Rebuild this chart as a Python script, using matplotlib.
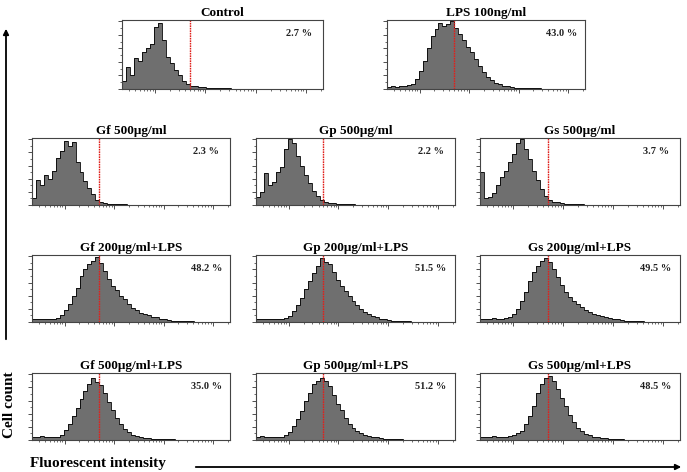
import matplotlib
matplotlib.use('Agg')
from matplotlib import pyplot as plt
from matplotlib.ticker import LogLocator, MultipleLocator, NullFormatter
import numpy as np

plt.rcParams['font.family'] = ['Liberation Serif', 'DejaVu Serif']
plt.rcParams['font.weight'] = 'bold'

W, H = 687, 472

# marker gate position (fluorescence channel) and axis range
gate = 5.0
x_lo, x_hi = 0.22, 2200

titles = ['Control', 'LPS 100ng/ml',
	'Gf 500\u03bcg/ml', 'Gp 500\u03bcg/ml', 'Gs 500\u03bcg/ml',
	'Gf 200\u03bcg/ml+LPS', 'Gp 200\u03bcg/ml+LPS', 'Gs 200\u03bcg/ml+LPS',
	'Gf 500\u03bcg/ml+LPS', 'Gp 500\u03bcg/ml+LPS', 'Gs 500\u03bcg/ml+LPS']

percents = ['2.7 %', '43.0 %',
	'2.3 %', '2.2 %', '3.7 %',
	'48.2 %', '51.5 %', '49.5 %',
	'35.0 %', '51.2 %', '48.5 %']

# relative cell counts, 50 log-spaced channels across the axis
control = [0.12, 0.32, 0.2, 0.46, 0.42, 0.55, 0.6, 0.66, 0.92, 0.98, 0.72, 0.48, 0.38, 0.28, 0.2, 0.12, 0.08, 0.05,
	0.04, 0.03, 0.025, 0.02, 0.02, 0.015, 0.012, 0.01, 0.008, 0.006, 0.005, 0.004, 0.003, 0.003, 0.002, 0.002,
	0.002, 0.002, 0.001, 0.001, 0, 0, 0, 0, 0, 0, 0, 0, 0, 0, 0, 0]
lps = [0.03, 0.04, 0.03, 0.05, 0.04, 0.06, 0.08, 0.15, 0.26, 0.42, 0.6, 0.78, 0.88, 0.97, 0.93, 0.96, 1.0, 0.9,
	0.82, 0.72, 0.62, 0.54, 0.44, 0.34, 0.25, 0.18, 0.13, 0.09, 0.07, 0.05, 0.04, 0.03, 0.02, 0.02, 0.015, 0.01,
	0.01, 0.01, 0.01, 0.005, 0.005, 0.005, 0.005, 0.002, 0.002, 0, 0, 0, 0, 0]
gf500 = [0.1, 0.38, 0.3, 0.45, 0.4, 0.52, 0.72, 0.82, 0.98, 0.9, 0.96, 0.66, 0.5, 0.36, 0.26, 0.16, 0.08, 0.05,
	0.03, 0.02, 0.015, 0.012, 0.01, 0.008, 0.006, 0.004, 0.003, 0.002, 0.002, 0.002, 0.002, 0, 0, 0, 0, 0, 0, 0,
	0, 0, 0, 0, 0, 0, 0, 0, 0, 0, 0, 0]
gp500 = [0.12, 0.2, 0.48, 0.3, 0.35, 0.5, 0.58, 0.85, 1.0, 0.95, 0.75, 0.6, 0.45, 0.34, 0.22, 0.14, 0.08, 0.05,
	0.03, 0.025, 0.02, 0.015, 0.012, 0.01, 0.008, 0.006, 0.004, 0.003, 0.002, 0.002, 0.002, 0, 0, 0, 0, 0, 0, 0,
	0, 0, 0, 0, 0, 0, 0, 0, 0, 0, 0, 0]
gs500 = [0.5, 0.1, 0.12, 0.18, 0.3, 0.42, 0.52, 0.66, 0.78, 0.94, 1.0, 0.86, 0.7, 0.52, 0.38, 0.24, 0.14, 0.08,
	0.05, 0.04, 0.03, 0.02, 0.018, 0.015, 0.01, 0.008, 0.006, 0.004, 0.003, 0.002, 0, 0, 0, 0, 0, 0, 0, 0, 0, 0,
	0, 0, 0, 0, 0, 0, 0, 0, 0, 0]
gf200_lps = [0.04, 0.05, 0.04, 0.05, 0.04, 0.05, 0.06, 0.1, 0.18, 0.28, 0.4, 0.52, 0.7, 0.8, 0.88, 0.93, 0.99,
	0.9, 0.78, 0.65, 0.55, 0.48, 0.4, 0.35, 0.28, 0.22, 0.18, 0.14, 0.12, 0.1, 0.08, 0.07, 0.05, 0.04, 0.035, 0.02,
	0.02, 0.015, 0.01, 0.01, 0.01, 0.005, 0.005, 0.005, 0, 0, 0, 0, 0, 0]
gp200_lps = [0.05, 0.04, 0.05, 0.04, 0.05, 0.04, 0.05, 0.06, 0.09, 0.16, 0.26, 0.36, 0.5, 0.62, 0.75, 0.86, 0.98,
	0.92, 0.88, 0.76, 0.64, 0.55, 0.47, 0.4, 0.32, 0.26, 0.2, 0.15, 0.12, 0.09, 0.07, 0.05, 0.04, 0.03, 0.02, 0.015,
	0.01, 0.01, 0.01, 0, 0, 0, 0, 0, 0, 0, 0, 0, 0, 0]
gs200_lps = [0.05, 0.05, 0.04, 0.06, 0.05, 0.05, 0.06, 0.07, 0.12, 0.2, 0.32, 0.45, 0.62, 0.76, 0.85, 0.93, 0.98,
	0.92, 0.8, 0.68, 0.56, 0.46, 0.38, 0.32, 0.27, 0.23, 0.18, 0.15, 0.12, 0.1, 0.09, 0.07, 0.06, 0.05, 0.04, 0.03,
	0.02, 0.02, 0.015, 0.01, 0.01, 0, 0, 0, 0, 0, 0, 0, 0, 0]
gf500_lps = [0.05, 0.04, 0.06, 0.05, 0.04, 0.05, 0.05, 0.08, 0.15, 0.25, 0.36, 0.48, 0.62, 0.75, 0.85, 0.95, 0.88,
	0.84, 0.72, 0.58, 0.46, 0.34, 0.25, 0.17, 0.12, 0.08, 0.06, 0.05, 0.03, 0.03, 0.02, 0.02, 0.01, 0.01, 0.01,
	0.01, 0.005, 0.005, 0.005, 0, 0, 0, 0, 0, 0, 0, 0, 0, 0, 0]
gp500_lps = [0.05, 0.06, 0.04, 0.05, 0.05, 0.04, 0.05, 0.07, 0.12, 0.22, 0.32, 0.44, 0.6, 0.72, 0.85, 0.9, 0.95,
	0.9, 0.82, 0.68, 0.55, 0.45, 0.33, 0.25, 0.18, 0.13, 0.1, 0.07, 0.06, 0.05, 0.04, 0.03, 0.02, 0.015, 0.01, 0.01,
	0.01, 0, 0, 0, 0, 0, 0, 0, 0, 0, 0, 0, 0, 0]
gs500_lps = [0.05, 0.04, 0.05, 0.06, 0.05, 0.04, 0.05, 0.06, 0.08, 0.1, 0.14, 0.24, 0.36, 0.52, 0.72, 0.86, 0.95,
	0.98, 0.9, 0.78, 0.64, 0.52, 0.38, 0.27, 0.18, 0.13, 0.09, 0.07, 0.05, 0.04, 0.03, 0.03, 0.02, 0.01, 0.01, 0.01,
	0, 0, 0, 0, 0, 0, 0, 0, 0, 0, 0, 0, 0, 0]

counts = [control, lps, gf500, gp500, gs500, gf200_lps, gp200_lps, gs200_lps, gf500_lps, gp500_lps, gs500_lps]

# panel boxes in pixels: left, top, right, bottom
cols = [(32, 230), (256, 455), (480, 680)]
rows = [(138, 205), (255, 322), (373, 440)]
boxes = [(122, 20, 323, 89), (387, 20, 585, 89)]
for top, bottom in rows:
	for left, right in cols:
		boxes.append((left, top, right, bottom))

fig = plt.figure(figsize=(W/100, H/100), dpi=100)

for (l, t, r, b), title, pct, c in zip(boxes, titles, percents, counts):
	ax = fig.add_axes([l/W, 1 - b/H, (r-l)/W, (b-t)/H])
	edges = np.logspace(np.log10(x_lo), np.log10(x_hi), len(c) + 1)
	ax.stairs(c, edges, fill=True, color='#6f6f6f', lw=0)
	ax.stairs(c, edges, color='black', lw=0.6)
	ax.axvline(gate, color='#e0201c', lw=1.0, ls=(0, (1.2, 0.6)))
	ax.set_xscale('log')
	ax.set_xlim(x_lo, x_hi)
	ax.set_ylim(0, 1.02)
	ax.xaxis.set_major_locator(LogLocator(base=10))
	ax.xaxis.set_minor_locator(LogLocator(base=10, subs=np.arange(2, 10)))
	ax.xaxis.set_major_formatter(NullFormatter())
	ax.xaxis.set_minor_formatter(NullFormatter())
	ax.yaxis.set_major_locator(MultipleLocator(0.2))
	ax.yaxis.set_minor_locator(MultipleLocator(0.1))
	ax.yaxis.set_major_formatter(NullFormatter())
	ax.tick_params(which='major', length=3, width=0.6, color='#333333')
	ax.tick_params(which='minor', length=1.6, width=0.5, color='#333333')
	for s in ax.spines.values():
		s.set_linewidth(0.8)
		s.set_color('#444444')
	ax.set_title(title, fontsize=9.5, fontweight='bold', pad=3)
	ax.text(0.88, 0.8, pct, transform=ax.transAxes, ha='center', va='center',
		fontsize=7.5, fontweight='bold', color='#222222')

# cell count arrow
fig.patches.append(matplotlib.patches.FancyArrowPatch(
	(6/W, 1 - 342/H), (6/W, 1 - 26/H), transform=fig.transFigure,
	arrowstyle='-|>', mutation_scale=8, lw=1.3, color='black'))
fig.text(10/W, 1 - 405/H, 'Cell count', rotation=90, ha='center', va='center',
	fontsize=11, fontweight='bold')

# fluorescence arrow
fig.patches.append(matplotlib.patches.FancyArrowPatch(
	(193/W, 1 - 467/H), (684/W, 1 - 467/H), transform=fig.transFigure,
	arrowstyle='-|>', mutation_scale=8, lw=1.3, color='black'))
fig.text(30/W, 1 - 464/H, 'Fluorescent intensity', ha='left', va='center',
	fontsize=11, fontweight='bold')

fig.savefig('out.png', dpi=100)
